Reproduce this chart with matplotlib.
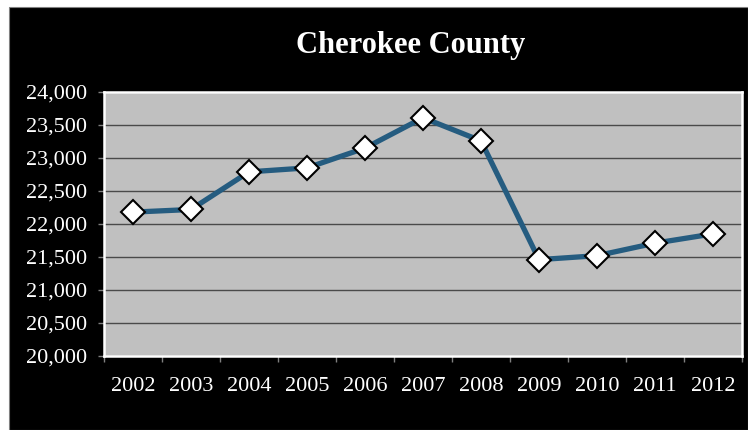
import numpy as np
import matplotlib.pyplot as plt
from matplotlib.patches import Rectangle

# Data
years = ['2002', '2003', '2004', '2005', '2006', '2007', '2008', '2009', '2010', '2011', '2012']
population = [22180, 22220, 22790, 22850, 23150, 23610, 23260, 21460, 21520, 21710, 21850]
y_ticks = [20000, 20500, 21000, 21500, 22000, 22500, 23000, 23500, 24000]

W, H = 748, 430
fig = plt.figure(figsize=(W / 100, H / 100), dpi=100, facecolor='white')

# black chart background with a thin white margin top/left
fig.patches.append(Rectangle((9 / W, 0), 1 - 9 / W, 1 - 7 / H, transform=fig.transFigure,
                             facecolor='black', edgecolor='#808080', linewidth=0.8, zorder=-5))

ax = fig.add_axes([104 / W, 1 - 356 / H, (742 - 104) / W, (356 - 92) / H])
ax.set_zorder(2)
ax.set_facecolor('#c0c0c0')

x = np.arange(len(years))
ax.plot(x, population, color='#255c80', linewidth=3.8, zorder=3,
        marker='D', markersize=12, markerfacecolor='white',
        markeredgecolor='black', markeredgewidth=1.5)

ax.set_xlim(-0.5, len(years) - 0.5)
ax.set_ylim(20000, 24000)
ax.set_yticks(y_ticks)
ax.set_yticklabels([f'{v:,}' for v in y_ticks])
ax.yaxis.grid(True, color='#4a4a4a', linewidth=1.0)
ax.set_axisbelow(True)

# category labels at centres, tick marks at category boundaries
ax.set_xticks(x)
ax.set_xticklabels(years)
ax.set_xticks(np.arange(-0.5, len(years)), minor=True)
ax.tick_params(axis='x', which='major', length=0, pad=15)
ax.tick_params(axis='x', which='minor', length=4.5, color='#808080', width=1)
ax.tick_params(axis='y', length=4.5, color='#808080', width=1, pad=8)

for lab in ax.get_xticklabels() + ax.get_yticklabels():
    lab.set_fontfamily('Liberation Serif')
    lab.set_fontsize(16)
    lab.set_color('white')

for s in ax.spines.values():
    s.set_color('white')
    s.set_linewidth(1.8)

fig.text(411 / W, 1 - 46 / H, 'Cherokee County', ha='center', va='center',
         fontsize=22, fontweight='bold', color='white', fontfamily='Liberation Serif')

fig.savefig('out.png', dpi=100, facecolor=fig.get_facecolor())
